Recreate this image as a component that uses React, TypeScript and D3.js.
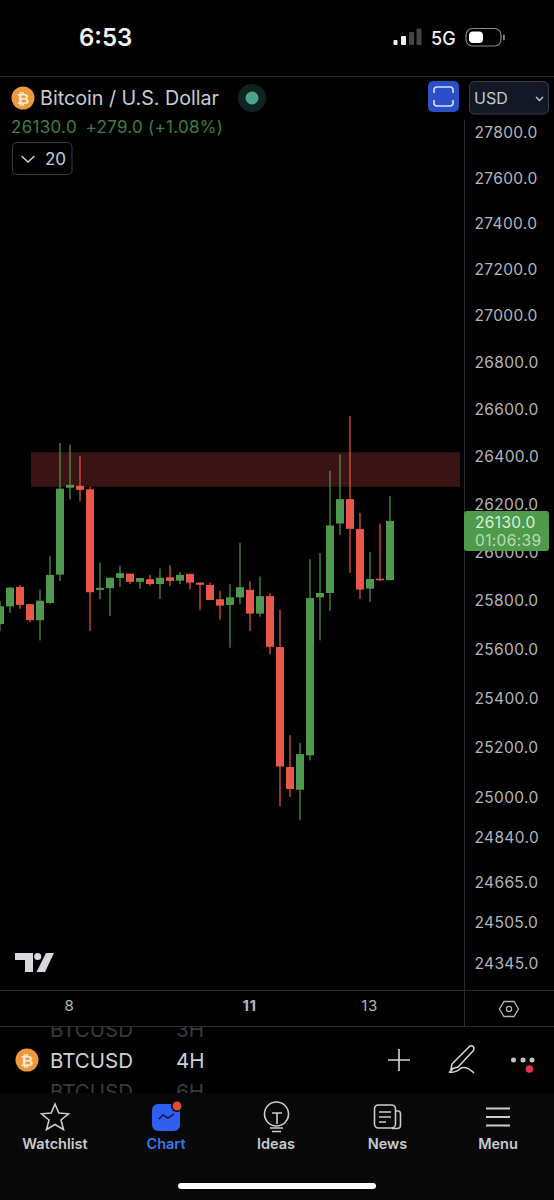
import { useEffect, useRef } from 'react';
import * as d3 from 'd3';

// 4H candles
const opens = [25703, 25776, 25856, 25785, 25719, 25790, 25907, 26269, 26277, 26262, 25844, 25851, 25893, 25911, 25877, 25888, 25868, 25896, 25882, 25910, 25874, 25864, 25805, 25782, 25813, 25844, 25746, 25818, 25609, 25123, 25032, 25170, 25813, 25831, 26119, 26221, 26096, 25849, 25890, 25884];
const highs = [25798, 25856, 25864, 25787, 25845, 25983, 26457, 26450, 26402, 26273, 25957, 25894, 25944, 25911, 25893, 25906, 25932, 25946, 25918, 25910, 25874, 25874, 25840, 25867, 26039, 25880, 25899, 25830, 25761, 25251, 25220, 25971, 25996, 26340, 26409, 26572, 26164, 26001, 26119, 26234];
const lows = [25675, 25750, 25766, 25712, 25636, 25787, 25881, 26221, 26211, 25675, 25805, 25735, 25856, 25868, 25849, 25861, 25806, 25860, 25867, 25845, 25760, 25802, 25721, 25606, 25785, 25675, 25733, 25579, 24966, 25003, 24911, 25149, 25636, 25757, 26071, 25915, 25806, 25794, 25880, 25884];
const closes = [25776, 25853, 25782, 25719, 25799, 25906, 26265, 26281, 26260, 25834, 25852, 25894, 25913, 25877, 25893, 25868, 25894, 25881, 25906, 25874, 25865, 25802, 25779, 25813, 25855, 25746, 25818, 25610, 25125, 25035, 25175, 25810, 25831, 26111, 26221, 26097, 25845, 25889, 25884, 26130];

const priceTicks = [27800, 27600, 27400, 27200, 27000, 26800, 26600, 26400, 26200, 26000, 25800, 25600, 25400, 25200, 25000, 24840, 24665, 24505, 24345];
const dateTickIndex = [7, 25, 37];
const dateTickLabels = ['8', '11', '13'];
const boldDateTick = '11';

const zonePrices = [26418, 26273];
const zoneIndex = [3.1, 46];

const lastPrice = 26130;
const countdown = '01:06:39';

const UP = '#51984f';
const DOWN = '#e9574a';
const FONT = 'Inter, "Noto Sans", sans-serif';
const AXIS_X = 465;
const W = 554;
const H = 1200;

function Coin({ cx, cy, r }: { cx: number; cy: number; r: number }) {
  return (
    <g>
      <circle cx={cx} cy={cy} r={r} fill="#ee9a3c" />
      <text x={cx} y={cy + r * 0.48} fontSize={r * 1.35} fontWeight={700} fill="#fbe9d2" textAnchor="middle" fontFamily='"DejaVu Sans", sans-serif'>₿</text>
    </g>
  );
}

export default function App() {
  const chartRef = useRef<SVGGElement>(null);

  useEffect(() => {
    document.body.style.margin = '0';
    document.body.style.background = '#000';
    if (!chartRef.current) return;

    const g = d3.select(chartRef.current);
    g.selectAll('*').remove();

    const x = d3.scaleLinear().domain([0, 39]).range([0, 390]);
    const y = d3.scaleLog().domain([24345, 27800]).range([964, 133]);

    // ── Zone ─────────────────────────────────
    g.append('rect')
      .attr('x', x(zoneIndex[0])).attr('width', x(zoneIndex[1]) - x(zoneIndex[0]))
      .attr('y', y(zonePrices[0])).attr('height', y(zonePrices[1]) - y(zonePrices[0]))
      .attr('fill', '#3a1414');

    // ── Candles ──────────────────────────────
    opens.forEach((open, i) => {
      const close = closes[i];
      const color = close >= open ? UP : DOWN;
      g.append('line')
        .attr('x1', x(i)).attr('x2', x(i))
        .attr('y1', y(highs[i])).attr('y2', y(lows[i]))
        .attr('stroke', color).attr('stroke-width', 1.2);
      const top = y(Math.max(open, close));
      const bottom = y(Math.min(open, close));
      g.append('rect')
        .attr('x', x(i) - 4).attr('width', 8)
        .attr('y', top).attr('height', Math.max(1.5, bottom - top))
        .attr('fill', color);
    });

    // ── Price axis ───────────────────────────
    const yAxis = d3.axisRight(y)
      .tickValues(priceTicks)
      .tickSize(0)
      .tickPadding(9.5)
      .tickFormat(d => (d as number).toFixed(1));
    g.append('g')
      .attr('transform', `translate(${AXIS_X}, 0)`)
      .call(yAxis)
      .call(a => {
        a.select('.domain').remove();
        a.selectAll('text')
          .attr('fill', '#b4b6bc').attr('font-size', 15.5)
          .attr('font-family', FONT).attr('letter-spacing', 0.35);
      });

    // ── Time axis ────────────────────────────
    const xAxis = d3.axisBottom(x)
      .tickValues(dateTickIndex)
      .tickSize(0)
      .tickPadding(0)
      .tickFormat((_, i) => dateTickLabels[i]);
    g.append('g')
      .attr('transform', 'translate(-1, 1000)')
      .call(xAxis)
      .call(a => {
        a.select('.domain').remove();
        a.selectAll('text')
          .attr('fill', '#b4b6bc').attr('font-size', 15)
          .attr('font-family', FONT).attr('letter-spacing', 0.5)
          .attr('font-weight', (_, i) => (dateTickLabels[i] === boldDateTick ? 700 : 400));
      });

    // ── Last price tag ───────────────────────
    const tag = g.append('g');
    const tagY = y(lastPrice);
    tag.append('rect')
      .attr('x', 464).attr('y', tagY - 10).attr('width', 85).attr('height', 40)
      .attr('rx', 3).attr('fill', '#4f9a4b');
    tag.append('text')
      .attr('x', 475).attr('y', tagY + 7)
      .attr('fill', '#dcf0da').attr('font-size', 15.5).attr('letter-spacing', 0.35).attr('font-family', FONT)
      .text(lastPrice.toFixed(1));
    tag.append('text')
      .attr('x', 475).attr('y', tagY + 25)
      .attr('fill', '#b9ddb6').attr('font-size', 15.5).attr('letter-spacing', 0.35).attr('font-family', FONT)
      .text(countdown);
  }, []);

  const sep = '#2a2c33';
  const icon = '#c9cbd0';

  return (
    <svg width={W} height={H} viewBox={`0 0 ${W} ${H}`} style={{ display: 'block', position: 'absolute', top: 0, left: 0, background: '#000' }} fontFamily={FONT}>
      <defs>
        <clipPath id="ghost">
          <rect x={0} y={1027} width={W} height={66} />
        </clipPath>
      </defs>

      {/* Status bar */}
      <text x={79} y={46} fontSize={24} fontWeight={600} fill="#f2f2f2">6:53</text>
      <rect x={393.5} y={40} width={4} height={5} rx={1} fill="#eee" />
      <rect x={401} y={36} width={5} height={9} rx={1} fill="#eee" />
      <rect x={409} y={32} width={5} height={13} rx={1} fill="#444" />
      <rect x={416.5} y={28.5} width={5} height={16.5} rx={1} fill="#444" />
      <text x={431} y={45} fontSize={18} fontWeight={500} fill="#f2f2f2">5G</text>
      <rect x={466} y={28.5} width={35} height={17.5} rx={6.5} fill="none" stroke="#8a8a8a" strokeWidth={1.2} />
      <rect x={469} y={31.5} width={14} height={11.5} rx={4} fill="#fff" />
      <rect x={503} y={34.5} width={1.8} height={6} rx={0.9} fill="#8a8a8a" />
      <line x1={0} x2={W} y1={76.5} y2={76.5} stroke={sep} />

      {/* Chart frame */}
      <line x1={AXIS_X - 0.5} x2={AXIS_X - 0.5} y1={120} y2={1026} stroke={sep} />
      <line x1={0} x2={W} y1={990.5} y2={990.5} stroke={sep} />
      <line x1={0} x2={W} y1={1026.5} y2={1026.5} stroke={sep} />

      <g ref={chartRef} />

      {/* Header */}
      <Coin cx={23} cy={98} r={11.5} />
      <text x={40} y={105} fontSize={19.7} fill="#c9ccd3">Bitcoin / U.S. Dollar</text>
      <circle cx={252} cy={98} r={14} fill="#0f2420" />
      <circle cx={252} cy={98} r={6.5} fill="#4fa38e" />
      <text x={11} y={133} fontSize={17} fill="#3f7d45" letterSpacing={0.3}>26130.0</text>
      <text x={85.5} y={133} fontSize={17} fill="#3f7d45" letterSpacing={0.3}>+279.0</text>
      <text x={148} y={133} fontSize={17} fill="#3f7d45" letterSpacing={0.3}>(+1.08%)</text>
      <rect x={12.5} y={142.5} width={59.5} height={32} rx={4} fill="none" stroke="#363a45" />
      <path d="M21.5 156 L28 162 L34.5 156" fill="none" stroke="#d0d2d6" strokeWidth={1.5} />
      <text x={45} y={165} fontSize={17} fill="#c9ccd3">20</text>

      <rect x={428} y={81} width={31} height={31} rx={5} fill="#2a4fc9" />
      <path d="M434 93 v-3 q0 -3 3 -3 h13 q3 0 3 3 v3 M434 100 v3 q0 3 3 3 h13 q3 0 3 -3 v-3" fill="none" stroke="#d7e0fb" strokeWidth={1.6} />
      <rect x={469.5} y={81.5} width={79} height={32.5} rx={5} fill="#141824" stroke="#3b3f4a" />
      <text x={474} y={104} fontSize={16} fill="#c5c8d0">USD</text>
      <path d="M536 97 L539.5 100.5 L543 97" fill="none" stroke="#c5c8d0" strokeWidth={1.4} />

      {/* TradingView mark */}
      <path d="M15 953 H33 V972 H25 V960 H15 Z" fill="#d6d8dc" />
      <circle cx={37.7} cy={956.5} r={3.6} fill="#d6d8dc" />
      <path d="M46 953 H54 L45 972 H36.5 Z" fill="#d6d8dc" />

      {/* Settings hex */}
      <path d="M504 1001.5 H514 L518.5 1009 L514 1016.5 H504 L499.5 1009 Z" fill="none" stroke="#b4b6bc" strokeWidth={1.3} />
      <circle cx={509} cy={1009} r={2.6} fill="none" stroke="#b4b6bc" strokeWidth={1.2} />

      {/* Symbol row */}
      <g clipPath="url(#ghost)" fontSize={20.5} fill="#3a3a3d">
        <text x={50} y={1037}>BTCUSD</text>
        <text x={176} y={1037}>3H</text>
        <text x={50} y={1099}>BTCUSD</text>
        <text x={176} y={1099}>6H</text>
      </g>
      <Coin cx={27} cy={1060} r={11.5} />
      <text x={50} y={1068} fontSize={20.5} fill="#cfd1d6">BTCUSD</text>
      <text x={176} y={1068} fontSize={20.5} fill="#cfd1d6">4H</text>
      <path d="M399 1049 V1071 M388 1060 H410" stroke="#d5d6da" strokeWidth={1.6} fill="none" />
      <path d="M452 1064 L470 1046 Q473 1045 474 1048 Q474 1050 473 1051 L458 1067 L451 1069 Z M453 1069 Q448 1073 450 1072 Q456 1073 461 1068 Q467 1066 474 1073" fill="none" stroke="#d5d6da" strokeWidth={1.5} />
      <circle cx={513.5} cy={1060} r={2.5} fill="#c4c5c9" />
      <circle cx={523} cy={1060} r={2.5} fill="#c4c5c9" />
      <circle cx={532} cy={1060} r={2.5} fill="#c4c5c9" />
      <circle cx={529.5} cy={1069} r={3.8} fill="#e8324a" />

      {/* Nav bar */}
      <rect x={0} y={1093} width={W} height={107} fill="#080808" />
      <path d="M55 1104 L58.8 1113 L68.5 1113.8 L61 1120 L63.5 1129.5 L55 1124.5 L46.5 1129.5 L49 1120 L41.5 1113.8 L51.2 1113 Z" fill="none" stroke={icon} strokeWidth={1.6} />
      <text x={55} y={1149} fontSize={14.5} fontWeight={600} fill={icon} textAnchor="middle">Watchlist</text>

      <rect x={152} y={1104} width={28} height={27} rx={6} fill="#2e5fef" />
      <path d="M159 1119 L163 1115 L168 1118 L174 1114" fill="none" stroke="#0d1a44" strokeWidth={1.5} />
      <circle cx={177} cy={1106} r={6} fill="#080808" />
      <circle cx={177} cy={1106} r={4.5} fill="#e0483c" />
      <text x={166} y={1149} fontSize={14.5} fontWeight={600} fill="#3b78e8" textAnchor="middle">Chart</text>

      <circle cx={276.5} cy={1114} r={12} fill="none" stroke={icon} strokeWidth={1.6} />
      <path d="M272 1113 H282 M277 1113 V1124 M270 1128 H283 M272 1131.5 H281" fill="none" stroke={icon} strokeWidth={1.6} />
      <text x={276} y={1149} fontSize={14.5} fontWeight={600} fill={icon} textAnchor="middle">Ideas</text>

      <rect x={374.5} y={1105} width={21} height={23} rx={4} fill="none" stroke={icon} strokeWidth={1.6} />
      <path d="M395.5 1111 H398 Q400.5 1111 400.5 1114 V1125 Q400.5 1128.5 397 1128.5 H392 M379 1112 H391 M379 1117 H391 M379 1122 H386" fill="none" stroke={icon} strokeWidth={1.6} />
      <text x={387.5} y={1149} fontSize={14.5} fontWeight={600} fill={icon} textAnchor="middle">News</text>

      <path d="M486 1108.5 H510 M486 1117 H510 M486 1125.5 H510" fill="none" stroke={icon} strokeWidth={1.8} />
      <text x={498} y={1149} fontSize={14.5} fontWeight={600} fill={icon} textAnchor="middle">Menu</text>

      <rect x={178} y={1183} width={198} height={6} rx={3} fill="#fff" />
    </svg>
  );
}
